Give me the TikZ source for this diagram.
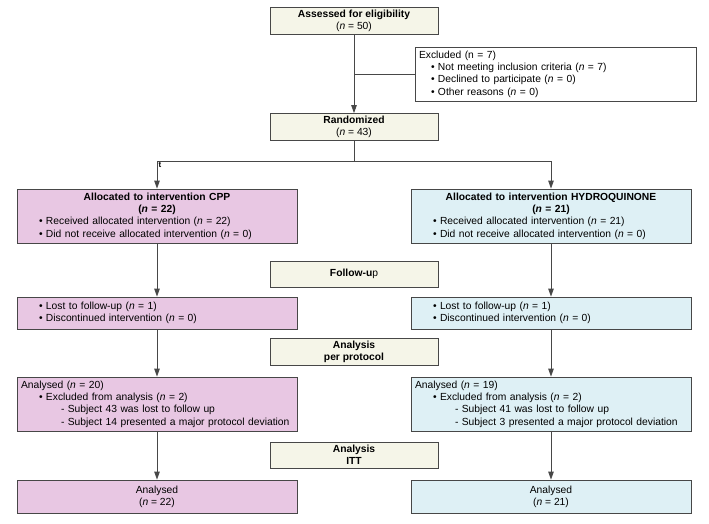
\documentclass[tikz,border=0pt]{standalone}
\usepackage{fontspec}
\setmainfont{Liberation Sans}
\usetikzlibrary{arrows.meta}
\definecolor{tabcol}{rgb}{0.96,0.96,0.91}
\definecolor{cppcol}{rgb}{0.91,0.78,0.89}
\definecolor{hqcol}{rgb}{0.87,0.94,0.96}
\definecolor{edgecol}{rgb}{0.28,0.28,0.28}
\newcommand{\nn}[1]{(\textit{n} = #1)}
\newcommand{\bul}[1][18pt]{\hspace*{#1}\makebox[7pt][l]{\textbullet}}
\newcommand{\subj}{\hspace*{40pt}- }
\newcommand{\ctr}[1]{\makebox[272pt]{#1}}

\begin{document}
\begin{tikzpicture}[x=1pt,y=-1pt,
    font=\fontsize{10.3}{12.3}\selectfont,
    box/.style={draw=edgecol, line width=0.8pt, inner xsep=4pt, inner ysep=2.5pt},
    tab/.style={box, fill=tabcol, minimum width=168pt, minimum height=26pt, align=center},
    armbox/.style={box, text width=272pt, align=left},
    link/.style={draw=edgecol, line width=0.8pt},
    arr/.style={link, -{Triangle[length=8pt,width=5.5pt]}}]
        \useasboundingbox (0,0) rectangle (709,524);
        \node[tab] (elig) at (354,21) {\textbf{Assessed for eligibility}\\\nn{50}};
        \node[box, text width=273pt, align=left, minimum height=54pt] (excl) at (555.5,74)
            {Excluded (n = 7)\\\bul[12pt]Not meeting inclusion criteria \nn{7}\\\bul[12pt]Declined to participate \nn{0}\\\bul[12pt]Other reasons \nn{0}};
        \node[tab] (rand) at (354,127) {\textbf{Randomized}\\\nn{43}};
        \node[armbox, fill=cppcol, minimum height=54pt] (cpp) at (157,216)
            {\ctr{\textbf{Allocated to intervention CPP}}\\\ctr{\textbf{\nn{22}}}\\\bul Received allocated intervention \nn{22}\\\bul Did not receive allocated intervention \nn{0}};
        \node[armbox, fill=hqcol, minimum height=54pt] (hq) at (551,216)
            {\ctr{\textbf{Allocated to intervention HYDROQUINONE}}\\\ctr{\textbf{\nn{21}}}\\\bul Received allocated intervention \nn{21}\\\bul Did not receive allocated intervention \nn{0}};
        \node[tab] (follow) at (354,274) {\textbf{Follow-u}p};
        \node[armbox, fill=cppcol, minimum height=32pt] (lostL) at (157,313)
            {\bul Lost to follow-up \nn{1}\\\bul Discontinued intervention \nn{0}};
        \node[armbox, fill=hqcol, minimum height=32pt] (lostR) at (551,313)
            {\bul Lost to follow-up \nn{1}\\\bul Discontinued intervention \nn{0}};
        \node[tab] (pp) at (354,352) {\textbf{Analysis}\\\textbf{per protocol}};
        \node[armbox, fill=cppcol, minimum height=54pt] (anL) at (157,404)
            {Analysed \nn{20}\\\bul Excluded from analysis \nn{2}\\\subj Subject 43 was lost to follow up\\\subj Subject 14 presented a major protocol deviation};
        \node[armbox, fill=hqcol, minimum height=54pt] (anR) at (551,404)
            {Analysed \nn{19}\\\bul Excluded from analysis \nn{2}\\\subj Subject 41 was lost to follow up\\\subj Subject 3 presented a major protocol deviation};
        \node[tab] (itt) at (354,455) {\textbf{Analysis}\\\textbf{ITT}};
        \node[box, fill=cppcol, minimum width=280pt, minimum height=33pt, align=center] (finL) at (157,496.5) {Analysed\\\nn{22}};
        \node[box, fill=hqcol, minimum width=280pt, minimum height=33pt, align=center] (finR) at (551,496.5) {Analysed\\\nn{21}};
        \coordinate (exj) at (elig.south |- excl.west);
        \coordinate (split) at (354,161);
        \node[font=\fontsize{8}{8}\selectfont\bfseries, anchor=north west, inner sep=0pt, xshift=1.5pt, yshift=-1.5pt] (stray) at (cpp.north |- split) {t};
        \draw[arr] (elig) -- (rand);
        \draw[link] (exj) -- (excl);
        \draw[link] (rand) -- (split);
        \draw[arr] (split) -| (cpp);
        \draw[arr] (split) -| (hq);
        \draw[arr] (cpp) -- (lostL);
        \draw[arr] (hq) -- (lostR);
        \draw[arr] (lostL) -- (anL);
        \draw[arr] (lostR) -- (anR);
        \draw[arr] (anL) -- (finL);
        \draw[arr] (anR) -- (finR);
    \end{tikzpicture}
\end{document}
